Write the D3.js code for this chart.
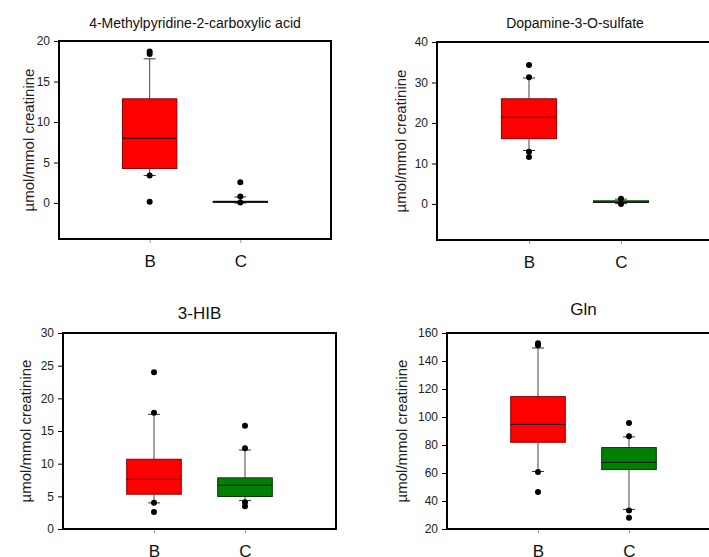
<!DOCTYPE html>
<html>
<head>
<meta charset="utf-8">
<script src="https://cdn.jsdelivr.net/npm/d3@7"></script>
<style>
	body { margin: 0; background: #fff; }
	svg { display: block; font-family: Arial, "Liberation Sans", sans-serif; }
</style>
</head>
<body>
<svg id="chart" width="709" height="557"></svg>
<script>

// groups on the x axis of every panel
var groups = ["B", "C"];

var titles = ["4-Methylpyridine-2-carboxylic acid", "Dopamine-3-O-sulfate", "3-HIB", "Gln"];
var yLabel = "\u00b5mol/mmol creatinine";

var yDomains = [[-4.44, 20], [-8.9, 40], [0, 30], [20, 160]];
var yTicks = [[0, 5, 10, 15, 20], [0, 10, 20, 30, 40], [0, 5, 10, 15, 20, 25, 30],
	[20, 40, 60, 80, 100, 120, 140, 160]];

// box statistics, one pair [B, C] per panel
var q1 = [[4.2, 0.15], [16.0, 0.25], [5.25, 4.9], [81.6, 62.1]];
var medians = [[8.0, 0.15], [21.4, 0.45], [7.6, 6.7], [94.7, 67.6]];
var q3 = [[12.8, 0.15], [25.85, 0.65], [10.6, 7.75], [114.2, 77.8]];
var whiskerLow = [[3.4, 0.0], [13.2, 0.1], [4.0, 4.35], [61.1, 34.0]];
var whiskerHigh = [[17.8, 0.75], [31.1, 1.2], [17.55, 12.1], [149.3, 85.8]];
var outliers = [
	[[18.7, 18.4, 3.4, 0.15], [2.55, 0.8, 0.05]],
	[[34.3, 31.3, 12.9, 11.6], [1.3, 0.0]],
	[[24.0, 17.8, 4.0, 2.6], [15.8, 12.35, 4.1, 3.5]],
	[[152.6, 151.2, 60.7, 46.4], [95.8, 86.3, 33.3, 28.1]]
];

var fills = { B: "#ff0000", C: "#008000" };

// where each panel's plot frame sits
var panels = [
	{ left: 59, top: 41, width: 272, height: 198, titleGap: 13, labelX: 29, titleSize: 14 },
	{ left: 437, top: 42, width: 276, height: 198, titleGap: 14, labelX: 401, titleSize: 14 },
	{ left: 63, top: 333, width: 273, height: 196, titleGap: 14, labelX: 26, titleSize: 17 },
	{ left: 447, top: 333, width: 273, height: 196, titleGap: 18, labelX: 402, titleSize: 17 }
];

var svg = d3.select("#chart");

panels.forEach(function(p, i) {

	var g = svg.append("g")
		.attr("transform", "translate(" + p.left + "," + p.top + ")");

	var x = d3.scalePoint()
		.domain(groups)
		.range([0, p.width])
		.padding(1);

	var y = d3.scaleLinear()
		.domain(yDomains[i])
		.range([p.height, 0]);

	var boxW = x.step() * 0.6;
	var capW = 12;

	// title
	svg.append("text")
		.attr("x", p.left + p.width / 2)
		.attr("y", p.top - p.titleGap)
		.attr("text-anchor", "middle")
		.style("font-size", p.titleSize + "px")
		.style("fill", "#111")
		.text(titles[i]);

	// y label
	svg.append("text")
		.attr("transform", "translate(" + p.labelX + "," + (p.top + p.height / 2) + ") rotate(-90)")
		.attr("text-anchor", "middle")
		.attr("dy", "0.35em")
		.style("font-size", "15px")
		.style("fill", "#222")
		.text(yLabel);

	// axes
	var yAxis = g.append("g")
		.call(d3.axisLeft(y).tickValues(yTicks[i]).tickSize(5).tickSizeOuter(0).tickPadding(4));
	yAxis.select(".domain").remove();
	yAxis.selectAll("text").style("font-size", "12px").style("fill", "#222").style("font-family", "inherit");

	var xAxis = g.append("g")
		.attr("transform", "translate(0," + p.height + ")")
		.call(d3.axisBottom(x).tickSize(4).tickSizeOuter(0).tickPadding(12));
	xAxis.select(".domain").remove();
	xAxis.selectAll("line").style("stroke", "#999");
	xAxis.selectAll("text").style("font-size", "17px").style("fill", "#111").style("font-family", "inherit");

	var stats = groups.map(function(grp, j) {
		return {
			group: grp,
			q1: q1[i][j], median: medians[i][j], q3: q3[i][j],
			lo: whiskerLow[i][j], hi: whiskerHigh[i][j],
			out: outliers[i][j]
		};
	});

	var box = g.selectAll(".box")
		.data(stats)
		.enter().append("g")
		.attr("class", "box")
		.attr("transform", function(d) { return "translate(" + x(d.group) + ",0)"; });

	// whiskers
	box.append("line")
		.attr("y1", function(d) { return y(d.hi); })
		.attr("y2", function(d) { return y(d.q3); })
		.style("stroke", "#444");
	box.append("line")
		.attr("y1", function(d) { return y(d.q1); })
		.attr("y2", function(d) { return y(d.lo); })
		.style("stroke", "#444");
	box.selectAll(".cap")
		.data(function(d) { return [d.lo, d.hi]; })
		.enter().append("line")
		.attr("class", "cap")
		.attr("x1", -capW / 2)
		.attr("x2", capW / 2)
		.attr("y1", function(v) { return y(v); })
		.attr("y2", function(v) { return y(v); })
		.style("stroke", "#333");

	box.append("rect")
		.attr("x", -boxW / 2)
		.attr("width", boxW)
		.attr("y", function(d) { return y(d.q3) - 0.5; })
		.attr("height", function(d) { return Math.max(y(d.q1) - y(d.q3), 1); })
		.style("fill", function(d) { return fills[d.group]; })
		.style("stroke", function(d) {
			if (d.q3 == d.q1) return "#000";
			return d.group == "B" ? "#8a0000" : "#003a00";
		})
		.style("stroke-width", 1);

	box.append("line")
		.attr("x1", -boxW / 2)
		.attr("x2", boxW / 2)
		.attr("y1", function(d) { return y(d.median); })
		.attr("y2", function(d) { return y(d.median); })
		.style("stroke", "#111");

	box.selectAll(".out")
		.data(function(d) { return d.out; })
		.enter().append("circle")
		.attr("class", "out")
		.attr("cy", function(v) { return y(v); })
		.attr("r", 3)
		.style("fill", "#000");

	// frame
	g.append("rect")
		.attr("width", p.width)
		.attr("height", p.height)
		.style("fill", "none")
		.style("stroke", "#000")
		.style("stroke-width", 2);

});

</script>
</body>
</html>
